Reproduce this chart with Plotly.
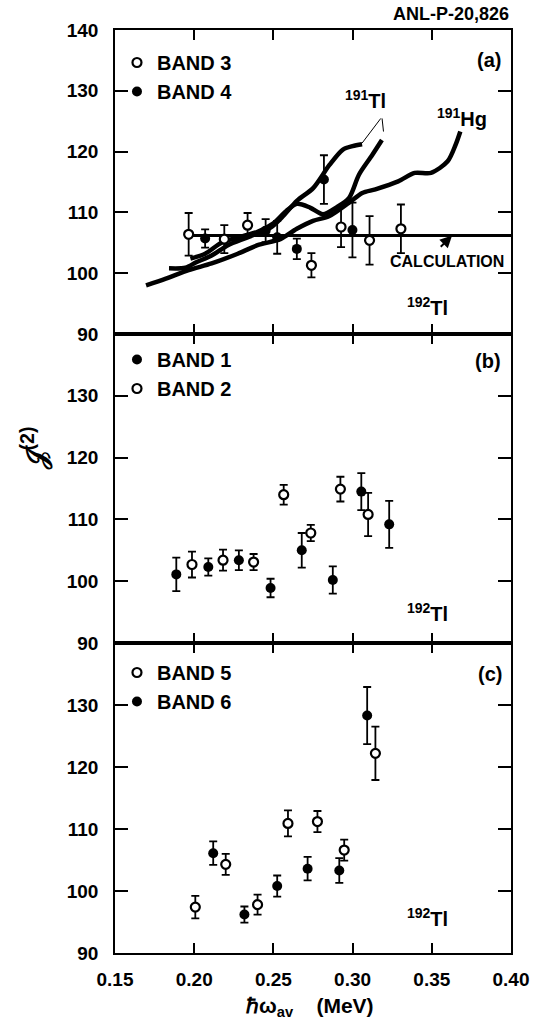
import plotly.graph_objects as go
from plotly.subplots import make_subplots

# ---------------- data ----------------
# Panel (a) 192Tl bands 3 and 4
band3_x = [0.1965, 0.2190, 0.2337, 0.2740, 0.2927, 0.3107, 0.3305]
band3_y = [106.4, 105.6, 107.9, 101.3, 107.6, 105.4, 107.3]
band3_e = [3.5, 2.3, 2.0, 2.0, 3.3, 4.0, 4.0]

band4_x = [0.2069, 0.2451, 0.2524, 0.2648, 0.2819, 0.2999]
band4_y = [105.7, 107.0, 105.9, 104.0, 115.4, 107.1]
band4_e = [1.5, 1.9, 2.7, 1.7, 4.0, 4.5]

# reference curves in panel (a)
tl1_x = [0.1841, 0.1945, 0.2013, 0.2110, 0.2213, 0.2337, 0.2482, 0.2565, 0.2648,
         0.2751, 0.2854, 0.2937, 0.3000, 0.3060]
tl1_y = [100.8, 100.9, 101.8, 102.9, 104.6, 105.9, 107.5, 109.5, 111.9,
         114.0, 117.8, 120.3, 120.9, 121.2]

tl2_x = [0.1976, 0.2069, 0.2172, 0.2275, 0.2400, 0.2500, 0.2580, 0.2648, 0.2731,
         0.2813, 0.2896, 0.2978, 0.3040, 0.3123, 0.3185]
tl2_y = [102.4, 103.2, 105.0, 105.9, 106.8, 108.2, 110.2, 111.4, 110.8,
         109.7, 110.8, 112.4, 116.2, 119.4, 121.9]

hg_x = [0.1696, 0.1821, 0.1965, 0.2110, 0.2275, 0.2400, 0.2544, 0.2648, 0.2750,
        0.2854, 0.2978, 0.3061, 0.3144, 0.3288, 0.3392, 0.3495, 0.3600, 0.3650, 0.3680]
hg_y = [98.0, 99.1, 100.5, 101.6, 103.2, 104.6, 105.6, 107.3, 108.6,
        109.4, 111.6, 113.2, 113.8, 115.1, 116.5, 116.5, 118.4, 121.1, 123.3]

calc_x = [0.1965, 0.40]
calc_y = [106.2, 106.2]

# Panel (b) bands 1 and 2
band1_x = [0.1887, 0.2089, 0.2282, 0.2482, 0.2679, 0.2875, 0.3055, 0.3231]
band1_y = [101.1, 102.3, 103.4, 98.9, 105.0, 100.2, 114.5, 109.2]
band1_e = [2.7, 1.4, 1.6, 1.5, 2.8, 2.2, 3.0, 3.8]

band2_x = [0.1986, 0.2182, 0.2375, 0.2565, 0.2736, 0.2923, 0.3098]
band2_y = [102.7, 103.4, 103.1, 114.0, 107.8, 114.9, 110.8]
band2_e = [2.1, 1.7, 1.3, 1.6, 1.3, 2.0, 3.5]

# Panel (c) bands 5 and 6
band5_x = [0.2007, 0.2199, 0.2400, 0.2592, 0.2778, 0.2947, 0.3144]
band5_y = [97.4, 104.3, 97.8, 110.9, 111.2, 106.6, 122.2]
band5_e = [1.8, 1.7, 1.6, 2.1, 1.7, 1.7, 4.3]

band6_x = [0.2120, 0.2317, 0.2524, 0.2716, 0.2916, 0.3092]
band6_y = [106.1, 96.2, 100.8, 103.6, 103.3, 128.3]
band6_e = [1.9, 1.3, 1.7, 1.9, 2.0, 4.6]

x_ticks = [0.15, 0.20, 0.25, 0.30, 0.35, 0.40]
x_ticklabels = ["0.15", "0.20", "0.25", "0.30", "0.35", "0.40"]
y_ticks_a = [90, 100, 110, 120, 130, 140]
y_ticks_bc = [90, 100, 110, 120, 130]

# ---------------- figure ----------------
FONT = "Liberation Sans, Arial, Helvetica, sans-serif"
BLACK = "#000000"

fig = make_subplots(rows=3, cols=1, shared_xaxes=True, vertical_spacing=0)


def err_trace(x, y, e, name, filled, row, legend):
    fig.add_trace(go.Scatter(
        x=x, y=y, mode="markers", name=name, legend=legend,
        marker=dict(symbol="circle", size=10 if filled else 9,
                    color=BLACK if filled else "white",
                    line=dict(color=BLACK, width=0 if filled else 2.2)),
        error_y=dict(type="data", array=e, visible=True, color=BLACK,
                     thickness=1.8, width=4),
    ), row=row, col=1)


def curve(x, y, width=4.5):
    fig.add_trace(go.Scatter(
        x=x, y=y, mode="lines", showlegend=False, hoverinfo="skip",
        line=dict(color=BLACK, width=width, shape="spline", smoothing=0.8),
    ), row=1, col=1)


# panel (a) curves first, points on top
curve(hg_x, hg_y)
curve(tl1_x, tl1_y)
curve(tl2_x, tl2_y)
fig.add_trace(go.Scatter(x=calc_x, y=calc_y, mode="lines", showlegend=False,
                         hoverinfo="skip", line=dict(color=BLACK, width=3)),
              row=1, col=1)

err_trace(band3_x, band3_y, band3_e, "BAND 3", False, 1, "legend")
err_trace(band4_x, band4_y, band4_e, "BAND 4", True, 1, "legend")
err_trace(band1_x, band1_y, band1_e, "BAND 1", True, 2, "legend2")
err_trace(band2_x, band2_y, band2_e, "BAND 2", False, 2, "legend2")
err_trace(band5_x, band5_y, band5_e, "BAND 5", False, 3, "legend3")
err_trace(band6_x, band6_y, band6_e, "BAND 6", True, 3, "legend3")

# geometry
L, R, T, B = 115, 23, 30, 71
H = 1024 - T - B
W = 541 - L - R
pa = (953 - 334) / H
pb = (953 - 643) / H

axis_common = dict(showline=True, linecolor=BLACK, linewidth=1.6, mirror="ticks",
                   ticks="inside", tickcolor=BLACK, tickwidth=1.8,
                   showgrid=False, zeroline=False,
                   tickfont=dict(family=FONT, size=19, color=BLACK, weight="bold"))

for i in (1, 2, 3):
    fig.update_xaxes(range=[0.15, 0.40], tickvals=x_ticks, ticktext=x_ticklabels,
                     ticklen=10, row=i, col=1, **axis_common)
    fig.update_yaxes(range=[90, 140], ticklen=13, row=i, col=1,
                     tickvals=y_ticks_a if i == 1 else y_ticks_bc,
                     ticklabelstandoff=11, **axis_common)
fig.update_xaxes(showticklabels=True, ticklabelstandoff=8, row=3, col=1)

fig.update_layout(
    yaxis=dict(domain=[pa, 1.0]),
    yaxis2=dict(domain=[pb, pa]),
    yaxis3=dict(domain=[0.0, pb]),
)

leg_common = dict(x=0.005, xanchor="left", yanchor="top", bgcolor="rgba(0,0,0,0)",
                  font=dict(family=FONT, size=20, color=BLACK, weight="bold"),
                  tracegroupgap=0, itemclick=False)
fig.update_layout(
    legend=dict(y=(953 - 43) / H, **leg_common),
    legend2=dict(y=(953 - 340) / H, **leg_common),
    legend3=dict(y=(953 - 653) / H, **leg_common),
)

ann = []


def txt(text, x, y, xref, yref, size=20, **kw):
    ann.append(dict(text=text, x=x, y=y, xref=xref, yref=yref, showarrow=False,
                    font=dict(family=FONT, size=size, color=BLACK, weight="bold"),
                    **kw))


iso = "<sup>192</sup>Tl"
txt("(a)", 0.3864, 135.1, "x", "y")
txt("(b)", 0.3857, 135.6, "x2", "y2")
txt("(c)", 0.3870, 135.0, "x3", "y3")
txt(iso, 0.3473, 94.6, "x", "y")
txt(iso, 0.3473, 95.0, "x2", "y2")
txt(iso, 0.3473, 95.8, "x3", "y3")
txt("<sup>191</sup>Tl", 0.3082, 128.6, "x", "y")
txt("<sup>191</sup>Hg", 0.3690, 125.6, "x", "y")
txt("CALCULATION", 0.3597, 102.0, "x", "y", size=16)
txt("ANL-P-20,826", 1.0, (953 - 14) / H, "paper", "paper", size=18,
    xanchor="right", yanchor="middle")
txt("𝒥<sup>(2)</sup>", (34 - L) / W, (953 - 448) / H, "paper", "paper",
    size=28, textangle=-90, xanchor="center", yanchor="middle")
txt("ℏω<sub>av</sub>\u00a0\u00a0\u00a0\u00a0(MeV)", (313 - L) / W, (953 - 1007) / H,
    "paper", "paper", size=21, xanchor="center", yanchor="middle")

# arrow to the calculation line and pointer lines for 191Tl
ann.append(dict(x=0.3628, y=106.2, ax=0.3547, ay=104.1, xref="x", yref="y",
                axref="x", ayref="y", showarrow=True, arrowhead=2, arrowsize=1.2,
                arrowwidth=2, arrowcolor=BLACK, text=""))
ann.append(dict(x=0.3060, y=121.4, ax=0.3185, ay=125.7, xref="x", yref="y",
                axref="x", ayref="y", showarrow=True, arrowhead=0, arrowwidth=1,
                arrowcolor=BLACK, text=""))
ann.append(dict(x=0.3195, y=123.3, ax=0.3185, ay=125.7, xref="x", yref="y",
                axref="x", ayref="y", showarrow=True, arrowhead=0, arrowwidth=1,
                arrowcolor=BLACK, text=""))

fig.update_layout(
    annotations=ann,
    width=541, height=1024,
    margin=dict(l=L, r=R, t=T, b=B, pad=0),
    paper_bgcolor="white", plot_bgcolor="white",
    font=dict(family=FONT, size=18, color=BLACK, weight="bold"),
    showlegend=True,
)

fig.write_html("out.html", config={"displayModeBar": False})
